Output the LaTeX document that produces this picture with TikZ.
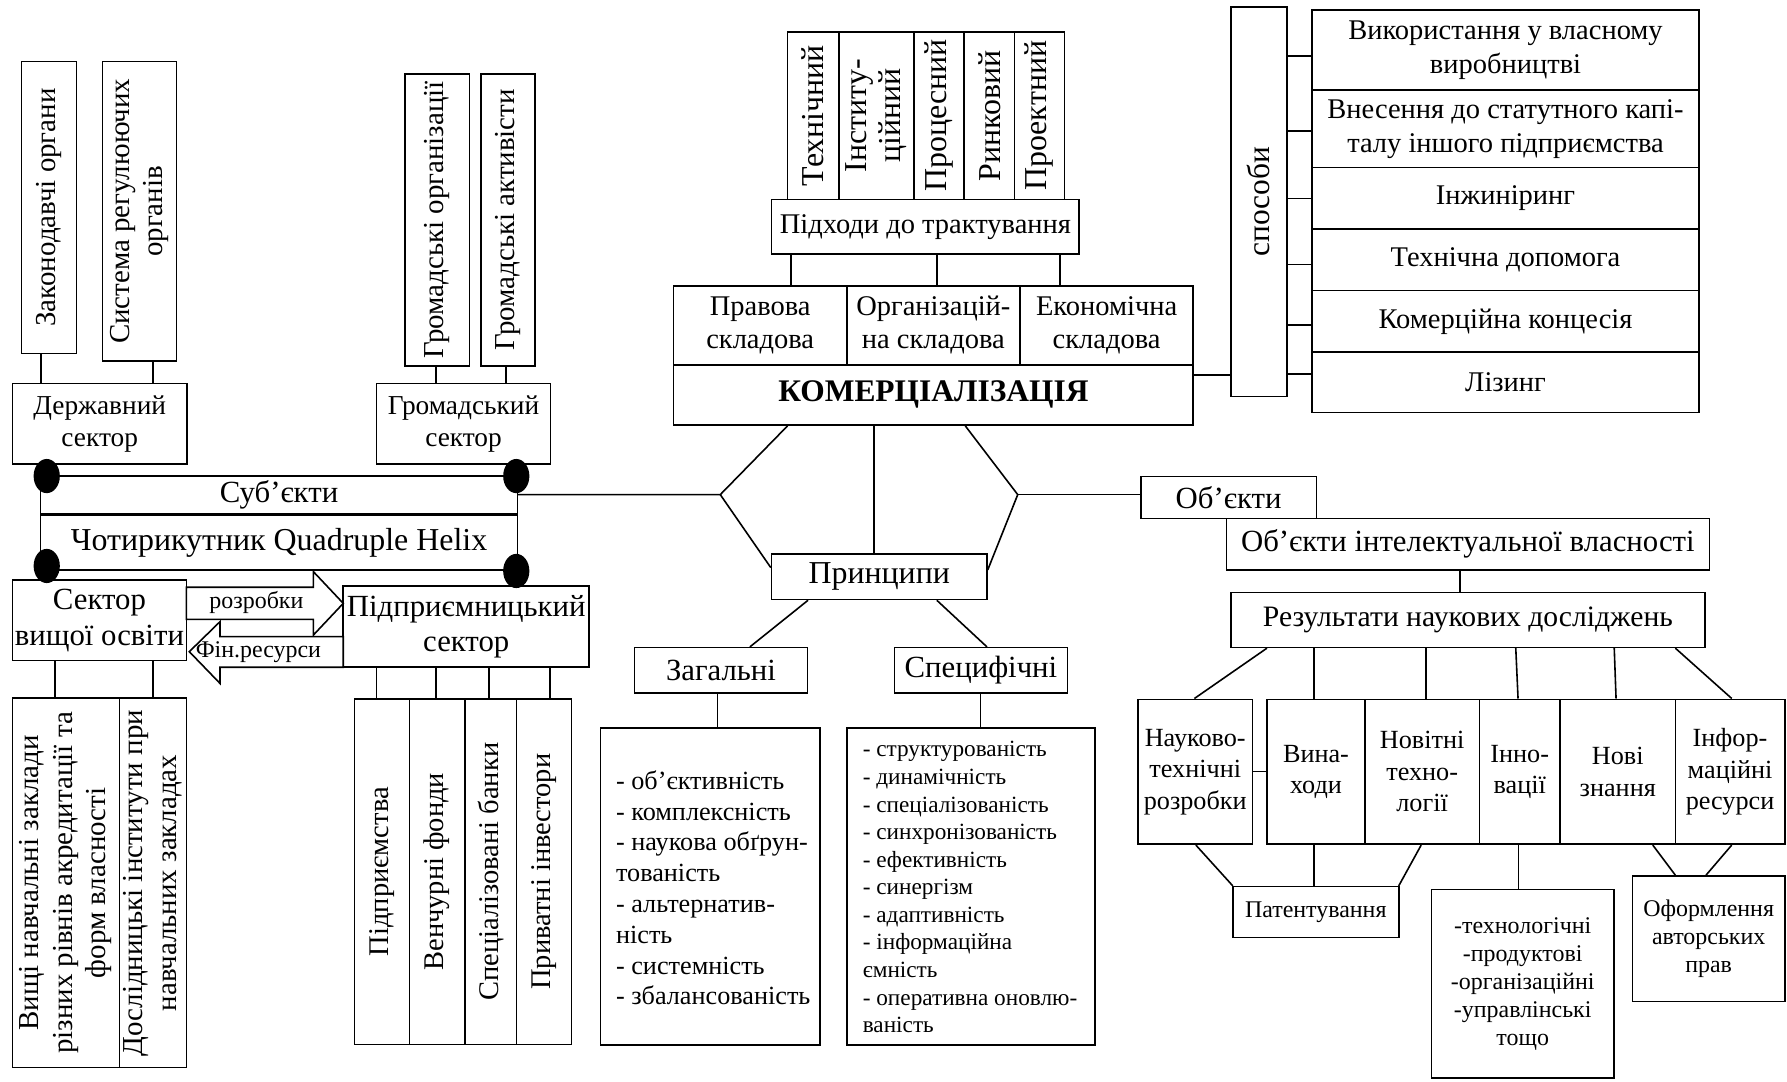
\documentclass[tikz,border=0pt]{standalone}
\usepackage{fontspec}
\setmainfont{Liberation Serif}
\usetikzlibrary{shapes.geometric}
\newcommand{\fsz}[2]{\fontsize{#1pt}{#2pt}\selectfont}
\newcommand{\mybox}[7][]{%
  \pgfmathsetmacro{\mybw}{(#5-#3)*0.5}%
  \pgfmathsetmacro{\mybh}{(#6-#4)*0.5}%
  \node[box, minimum width=\mybw pt, minimum height=\mybh pt, #1] (#2) at ({(#3+#5)/2},{(#4+#6)/2}) {#7};}
\newcommand{\vconn}[3]{\coordinate (vcx) at (#3,0); \draw[ln] (#1.south -| vcx) -- (#2.north -| vcx);}
\newcommand{\hconn}[3]{\coordinate (hcy) at (0,#3); \draw[ln] (#1.east |- hcy) -- (#2.west |- hcy);}
\newcommand{\dconn}[4]{\coordinate (dca) at (#2,0); \coordinate (dcb) at (#4,0); \draw[ln] (#1.south -| dca) -- (#3.north -| dcb);}
\begin{document}
\begin{tikzpicture}[x=0.5pt,y=-0.5pt,
  ln/.style={line width=0.7pt},
  box/.style={draw,line width=0.7pt,inner sep=0pt,align=center,font=\fsz{12.5}{14.5}},
  vt/.style={rotate=90,align=center,font=\fsz{12.7}{14.8},inner sep=0pt},
  dot/.style={ellipse,fill=black,draw=none,minimum width=11.5pt,minimum height=15pt,inner sep=0pt}]
\useasboundingbox (0,0) rectangle (1568,949);

% ---------- top left ----------
\mybox{zak}{19}{54}{67}{310}{}
\node[vt] (zakT) at (zak.center) {Законодавчі органи};
\mybox{sys}{90}{54}{155}{317}{}
\node[vt] (sysT) at (sys.center) {Система регулюючих\\органів};
\mybox[font=\fsz{12}{14}]{derzh}{11}{336.5}{164}{407}{Державний\\сектор}
\vconn{zak}{derzh}{36}
\vconn{sys}{derzh}{134}
\mybox{gorg}{355.5}{65}{412}{321}{}
\node[vt] (gorgT) at (gorg.center) {Громадські організації};
\mybox{gakt}{422}{65}{469.5}{321}{}
\node[vt] (gaktT) at (gakt.center) {Громадські активісти};
\mybox[font=\fsz{12}{14}]{grom}{330.5}{336.5}{483}{407}{Громадський\\сектор}
\vconn{gorg}{grom}{382.5}
\vconn{gakt}{grom}{444}

\mybox[font=\fsz{13.5}{15}]{subj}{35.7}{417.7}{454}{450.4}{Суб’єкти}
\mybox[font=\fsz{14}{16}]{quad}{35.7}{452}{454}{500}{Чотирикутник Quadruple Helix}
\node[dot] (d1) at (41,417.7) {};
\node[dot] (d2) at (453,417.7) {};
\node[dot] (d3) at (41,496.6) {};
\node[dot] (d4) at (453,501) {};

\mybox[font=\fsz{13.5}{15.5}]{vsect}{11}{509}{163.5}{579.7}{Сектор\\вищої освіти}
\mybox[font=\fsz{13.5}{15.5}]{pidpr}{301.2}{514.2}{517}{585.5}{Підприємницький\\сектор}
\draw[ln,fill=white] (163.5,515.3) -- (275,515.3) -- (275,501.6) -- (301.2,529.4) -- (275,557.2) -- (275,543.4) -- (163.5,543.4) -- cycle;
\node[font=\fsz{10.5}{12}] (rozT) at (225,528.5) {розробки};
\draw[ln,fill=white] (301.2,558.6) -- (193,558.6) -- (193,545.5) -- (166.1,571.8) -- (193,599.6) -- (193,585.5) -- (301.2,585.5) -- cycle;
\node[font=\fsz{10.5}{12}] (finT) at (226.7,571.8) {Фін.ресурси};

\mybox{lb1}{11}{612.7}{104.7}{936.8}{}
\mybox{lb2}{104.7}{612.7}{163.5}{936.8}{}
\node[vt,font=\fsz{12.7}{14.7}] (lb1T) at (lb1.center) {Вищі навчальні заклади\\різних рівнів акредитації та\\форм власності};
\node[vt,font=\fsz{12.7}{15}] (lb2T) at (lb2.center) {Дослідницькі інститути при\\навчальних закладах};
\vconn{vsect}{lb1}{48.3}
\vconn{vsect}{lb2}{134}

\mybox{rb1}{310.9}{613.3}{359.2}{916.3}{}
\mybox{rb2}{359.2}{613.3}{408}{916.3}{}
\mybox{rb3}{408}{613.3}{453.3}{916.3}{}
\mybox{rb4}{453.3}{613.3}{501.3}{916.3}{}
\node[vt,font=\fsz{12.5}{14}] (rb1T) at (rb1.center) {Підприємства};
\node[vt,font=\fsz{12.5}{14}] (rb2T) at (rb2.center) {Венчурні фонди};
\node[vt,font=\fsz{12.5}{14}] (rb3T) at (rb3.center) {Спеціалізовані банки};
\node[vt,font=\fsz{12.5}{14}] (rb4T) at (rb4.center) {Приватні інвестори};
\vconn{pidpr}{rb1}{330.5}
\vconn{pidpr}{rb2}{382.6}
\vconn{pidpr}{rb3}{429}
\vconn{pidpr}{rb4}{482.6}

% ---------- centre top ----------
\mybox{t1}{691}{28}{736}{175}{}
\mybox{t2}{736}{28}{802}{175}{}
\mybox{t3}{802}{28}{846}{175}{}
\mybox{t4}{846}{28}{890}{175}{}
\mybox{t5}{890}{28}{934}{175}{}
\node[vt,font=\fsz{14}{15}] (t1T) at (t1.center) {Технічний};
\node[vt,font=\fsz{14}{15}] (t2T) at (t2.center) {Інститу-\\ційний};
\node[vt,font=\fsz{14}{15}] (t3T) at (t3.center) {Процесний};
\node[vt,font=\fsz{14}{15}] (t4T) at (t4.center) {Ринковий};
\node[vt,font=\fsz{14}{15}] (t5T) at (t5.center) {Проектний};
\mybox{pidh}{677}{175}{947}{223}{Підходи до трактування}
\mybox{pr1}{591}{251}{743}{320}{Правова\\складова}
\mybox{pr2}{743}{251}{895}{320}{Організацій-\\на складова}
\mybox{pr3}{895}{251}{1047}{320}{Економічна\\складова}
\vconn{pidh}{pr1}{694}
\vconn{pidh}{pr2}{822}
\vconn{pidh}{pr3}{930}
\mybox[font=\fsz{13.8}{15}]{kom}{591}{320}{1047}{373}{\textbf{КОМЕРЦІАЛІЗАЦІЯ}}

% ---------- способи ----------
\mybox{spos}{1080}{6}{1129}{348}{}
\node[vt,font=\fsz{13.8}{15}] (sposT) at (spos.center) {способи};
\mybox[font=\fsz{12.5}{15}]{s1}{1151}{9}{1491}{79}{Використання у власному\\виробництві}
\mybox[font=\fsz{12.5}{15}]{s2}{1151}{79}{1491}{147}{Внесення до статутного капі-\\талу іншого підприємства}
\mybox{s3}{1151}{147}{1491}{201}{Інжиніринг}
\mybox{s4}{1151}{201}{1491}{255}{Технічна допомога}
\mybox{s5}{1151}{255}{1491}{309}{Комерційна концесія}
\mybox{s6}{1151}{309}{1491}{362}{Лізинг}
\hconn{kom}{spos}{329}
\hconn{spos}{s1}{49}
\hconn{spos}{s2}{115}
\hconn{spos}{s3}{174}
\hconn{spos}{s4}{232}
\hconn{spos}{s5}{285}
\hconn{spos}{s6}{328}

% ---------- principles ----------
\mybox[font=\fsz{14}{16}]{princ}{677}{486}{866}{526}{Принципи}
\mybox[font=\fsz{13.5}{15}]{zah}{556.6}{568.3}{708.7}{607.8}{Загальні}
\mybox[font=\fsz{13.5}{15}]{spec}{784.7}{568.3}{936.8}{607.8}{Специфічні}
\mybox{zahL}{527}{639}{719.5}{917}{}
\mybox{specL}{743}{639}{961}{917}{}
\node[anchor=west,align=left,font=\fsz{11.5}{13.5}] (zahT) at (533.5,779) {- об’єктивність\\- комплексність\\- наукова обґрун-\\тованість\\- альтернатив-\\ність\\- системність\\- збалансованість};
\node[anchor=west,align=left,font=\fsz{10.2}{12.1}] (specT) at (750,778.5) {- структурованість\\- динамічність\\- спеціалізованість\\- синхронізованість\\- ефективність\\- синергізм\\- адаптивність\\- інформаційна\\ємність\\- оперативна оновлю-\\ваність};
\dconn{princ}{709}{zah}{658}
\dconn{princ}{822}{spec}{866}
\vconn{zah}{zahL}{629.7}
\vconn{spec}{specL}{860.5}

% ---------- objects ----------
\mybox[font=\fsz{13.5}{15}]{obj}{1001}{418}{1155}{455}{Об’єкти}
\mybox[font=\fsz{13.5}{15}]{objint}{1076}{455}{1500}{500}{Об’єкти інтелектуальної власності}
\mybox[font=\fsz{13}{15}]{res}{1080}{520}{1496}{568}{Результати наукових досліджень}
\vconn{objint}{res}{1281}

% hexagon
\coordinate (vL) at (632,434);
\coordinate (vR) at (893,434);
\draw[ln] (subj.east) -- (vL);
\draw[ln] (vR) -- (obj.west |- vR);
\coordinate (k1) at (691,0);
\coordinate (k2) at (767,0);
\coordinate (k3) at (847,0);
\coordinate (pl) at (0,498);
\coordinate (pr) at (0,500);
\draw[ln] (kom.south -| k1) -- (vL) -- (princ.west |- pl);
\draw[ln] (kom.south -| k3) -- (vR) -- (princ.east |- pr);
\draw[ln] (kom.south -| k2) -- (princ.north -| k2);

\mybox[font=\fsz{11.5}{13.8}]{b1}{998.5}{613.6}{1099}{740.8}{Науково-\\технічні\\розробки}
\mybox[font=\fsz{11.5}{13.8}]{b2}{1111.7}{613.6}{1197.7}{740.8}{Вина-\\ходи}
\mybox[font=\fsz{11.5}{13.8}]{b3}{1197.7}{613.6}{1298}{740.8}{Новітні\\техно-\\логії}
\mybox[font=\fsz{11.5}{13.8}]{b4}{1298}{613.6}{1369}{740.8}{Інно-\\вації}
\mybox[font=\fsz{11.5}{13.8}]{b5}{1369}{613.6}{1470}{740.8}{Нові\\знання}
\mybox[font=\fsz{11.5}{13.8}]{b6}{1470}{613.6}{1566}{740.8}{Інфор-\\маційні\\ресурси}
\dconn{res}{1111.7}{b1}{1048}
\dconn{res}{1153.2}{b2}{1153.2}
\dconn{res}{1251}{b3}{1251}
\dconn{res}{1330}{b4}{1332}
\dconn{res}{1416.4}{b5}{1418}
\dconn{res}{1470}{b6}{1519.5}
\hconn{b1}{b2}{677}

\mybox[font=\fsz{10.5}{12}]{pat}{1081.7}{778}{1227.3}{822.5}{Патентування}
\mybox[font=\fsz{10.5}{12.25}]{inn}{1256.2}{780.3}{1416}{946}{-технологічні\\-продуктові\\-організаційні\\-управлінські\\тощо}
\mybox[font=\fsz{10.5}{12.2}]{oform}{1432.5}{768.6}{1566}{878.8}{Оформлення\\авторських\\прав}
\dconn{b1}{1049.3}{pat}{1081.7}
\dconn{b2}{1153.2}{pat}{1153.2}
\dconn{b3}{1247}{pat}{1227.3}
\dconn{b4}{1332.5}{inn}{1332.5}
\dconn{b5}{1450.2}{oform}{1470}
\dconn{b6}{1519.5}{oform}{1496.9}
\end{tikzpicture}
\end{document}
